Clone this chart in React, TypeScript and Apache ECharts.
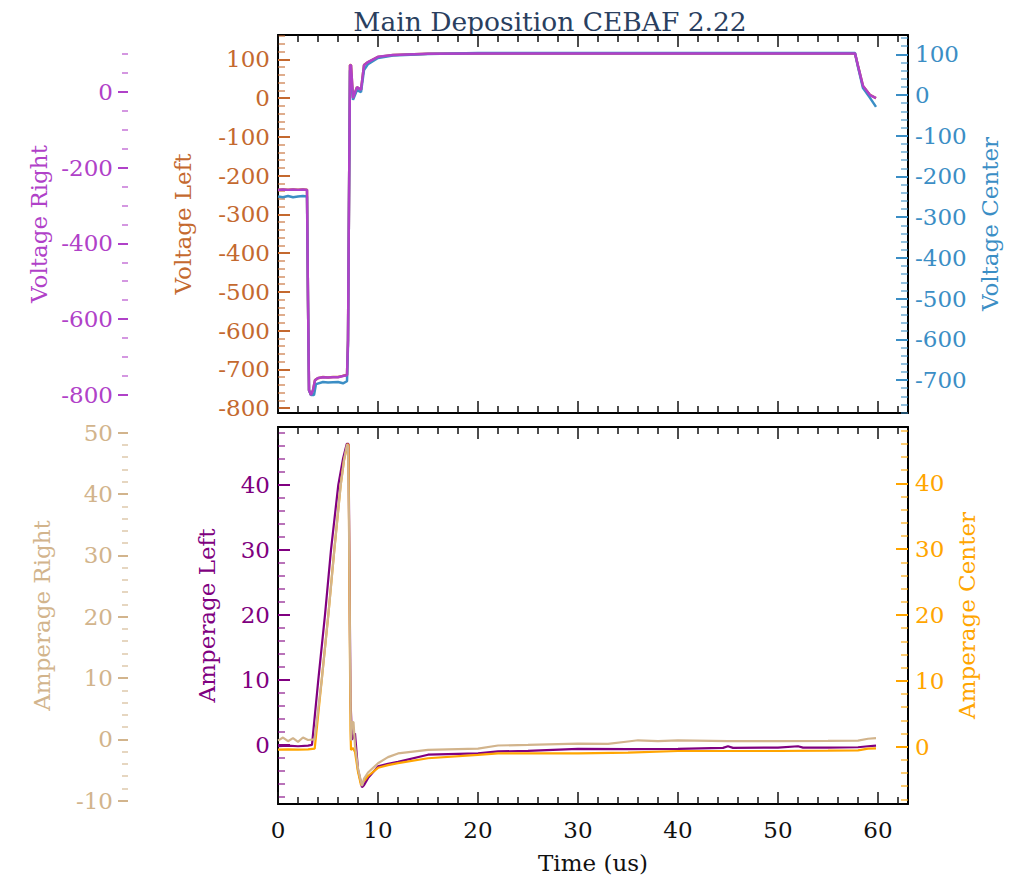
import React, { useEffect, useRef } from "react";
import * as echarts from "echarts";

// ---------- data (time in us, values per axis) ----------
const voltageLeft: [number, number][] = [
  [0, -237], [0.5, -236], [1, -237], [1.5, -236], [2, -237], [2.5, -236], [2.9, -237],
  [3.0, -521], [3.1, -754], [3.3, -766], [3.5, -754], [3.7, -728], [4.0, -723], [4.5, -720],
  [5, -721], [5.5, -720], [6, -720], [6.5, -717], [6.9, -715], [7.0, -625], [7.1, -263],
  [7.2, 85], [7.3, 85], [7.5, 0], [7.9, 28], [8.3, 21], [8.6, 85], [9.0, 93], [10, 106],
  [11.5, 111], [15, 114], [20, 115], [25, 115], [30, 115], [35, 115], [40, 115], [45, 115],
  [50, 115], [55, 115], [57.7, 115], [58.0, 83], [58.5, 31], [59.2, 8], [59.8, 0],
];
const voltageCenter: [number, number][] = [
  [0, -249], [0.5, -251], [1, -248], [1.5, -251], [2, -249], [2.5, -248], [2.9, -249],
  [3.0, -504], [3.1, -725], [3.3, -737], [3.6, -737], [3.8, -710], [4.5, -705], [5, -706],
  [6, -705], [6.5, -708], [6.9, -703], [7.0, -614], [7.1, -258], [7.2, 61], [7.3, 49],
  [7.5, -12], [7.9, 12], [8.3, 7], [8.6, 61], [9.0, 76], [10, 91], [11.5, 97], [15, 101],
  [20, 103], [25, 103], [30, 103], [35, 103], [40, 103], [45, 103], [50, 103], [55, 103],
  [57.7, 103], [58.0, 69], [58.5, 17], [59.2, -7], [59.8, -29],
];
const voltageRight: [number, number][] = [
  [0, -259], [0.5, -258], [1, -259], [1.5, -258], [2, -259], [2.5, -258], [2.9, -259],
  [3.0, -550], [3.1, -787], [3.3, -800], [3.5, -787], [3.7, -761], [4.0, -755], [4.5, -753],
  [5, -754], [5.5, -753], [6, -753], [6.5, -750], [6.9, -748], [7.0, -655], [7.1, -286],
  [7.2, 70], [7.3, 70], [7.5, -17], [7.9, 12], [8.3, 5], [8.6, 70], [9.0, 78], [10, 92],
  [11.5, 97], [15, 100], [20, 101], [25, 101], [30, 101], [35, 101], [40, 101], [45, 101],
  [50, 101], [55, 101], [57.7, 101], [58.0, 68], [58.5, 15], [59.2, -9], [59.8, -17],
];

const amperageLeft: [number, number][] = [
  [0, -0.2], [1, -0.1], [2, -0.2], [3, -0.1], [3.4, 0], [4.03, 10], [4.7, 20], [5.3, 30],
  [6.03, 40], [6.5, 44], [6.87, 46.3], [7.05, 46.3], [7.25, 6.9], [7.4, 0.8], [7.7, 1.8],
  [8.0, -3.8], [8.4, -6.5], [8.6, -6.2], [9, -5.1], [10, -3.3], [11, -2.9], [12, -2.6],
  [15, -1.5], [20, -1.3], [22, -1.0], [25, -0.9], [30, -0.6], [35, -0.65], [40, -0.6],
  [44.5, -0.45], [45, -0.2], [45.5, -0.45], [50, -0.4], [52, -0.2], [52.5, -0.4], [55, -0.4],
  [58, -0.35], [59, -0.2], [59.8, -0.1],
];
const amperageCenter: [number, number][] = [
  [0, -0.45], [1, -0.4], [2, -0.45], [3, -0.4], [3.67, -0.3], [4.37, 10.1], [5.03, 20],
  [5.63, 29.9], [6.27, 39.75], [6.6, 43.5], [6.97, 46.0], [7.05, 45.7], [7.15, 22.3],
  [7.25, 2.5], [7.3, -0.5], [7.5, -0.2], [7.7, -0.8], [8.0, -3.8], [8.3, -5.8], [8.6, -5.2],
  [9, -4.45], [10, -3.2], [11, -2.8], [12, -2.5], [15, -1.75], [20, -1.25], [22, -1.0],
  [30, -1.0], [35, -0.9], [40, -0.65], [50, -0.65], [55, -0.6], [58, -0.55], [59, -0.3],
  [59.8, -0.25],
];
const amperageRight: [number, number][] = [
  [0, -0.2], [0.5, 0.3], [1, -0.3], [1.5, 0.2], [2, -0.4], [2.5, 0.3], [3, -0.1], [3.65, 0],
  [4.37, 9.6], [5.03, 20.2], [5.63, 30.8], [6.27, 41.4], [6.6, 45.5], [6.9, 48.1], [7.0, 47.8],
  [7.1, 35.7], [7.2, 14.5], [7.3, -0.2], [7.4, 2.8], [7.55, 2.8], [7.7, -1.0], [8.0, -4.7],
  [8.4, -7.6], [8.6, -6.4], [9, -5.4], [10, -3.9], [11, -2.9], [12, -2.3], [15, -1.7],
  [20, -1.5], [22, -1.0], [25, -0.9], [30, -0.7], [33, -0.75], [35, -0.35], [36, -0.15],
  [38, -0.3], [40, -0.15], [45, -0.3], [50, -0.3], [55, -0.25], [58, -0.2], [59, 0.1],
  [59.8, 0.2],
];

// ---------- tick labels ----------
const timeTicks = [0, 10, 20, 30, 40, 50, 60];
const voltageLeftTicks = [-800, -700, -600, -500, -400, -300, -200, -100, 0, 100];
const voltageRightTicks = [-800, -600, -400, -200, 0];
const voltageCenterTicks = [-700, -600, -500, -400, -300, -200, -100, 0, 100];
const amperageLeftTicks = [0, 10, 20, 30, 40];
const amperageRightTicks = [-10, 0, 10, 20, 30, 40, 50];
const amperageCenterTicks = [0, 10, 20, 30, 40];

const FONT = "'DejaVu Serif', serif";
const FS = 23;
const C = {
  vl: "#c4692f",
  vr: "#b041c8",
  vc: "#3b8ec5",
  al: "#800080",
  ar: "#d2b48c",
  ac: "#ffa500",
  title: "#2a3f5f",
};

function fade(hex: string, a: number) {
  const n = parseInt(hex.slice(1), 16);
  return `rgba(${(n >> 16) & 255},${(n >> 8) & 255},${n & 255},${a})`;
}

function yAxis(o: any) {
  return {
    type: "value",
    gridIndex: o.grid,
    position: o.pos,
    offset: o.offset,
    min: o.min,
    max: o.max,
    minInterval: o.major,
    maxInterval: o.major,
    splitLine: { show: false },
    axisLine: {
      show: true,
      onZero: false,
      lineStyle: o.offset ? { color: "rgba(0,0,0,0)", width: 0 } : { color: "#000", width: 2 },
    },
    axisTick: {
      show: true,
      inside: !o.offset,
      length: o.offset ? 10 : 12,
      customValues: o.ticks,
      lineStyle: { color: o.color, width: 2 },
    },
    minorTick: {
      show: true,
      splitNumber: o.split,
      length: o.offset ? 6 : 7,
      lineStyle: { color: fade(o.color, 0.55), width: 2 },
    },
    axisLabel: {
      show: true,
      customValues: o.ticks,
      color: o.color,
      fontSize: FS,
      fontFamily: FONT,
      margin: o.labelMargin,
      formatter: (v: number) => (o.ticks.indexOf(v) >= 0 ? String(v) : ""),
    },
    name: o.name,
    nameLocation: "middle",
    nameGap: o.nameGap,
    nameRotate: 90,
    nameTextStyle: { color: o.color, fontSize: FS, fontFamily: FONT },
  };
}

function xAxis(grid: number, pos: string, labels: boolean) {
  return {
    type: "value",
    gridIndex: grid,
    position: pos,
    min: 0,
    max: 63,
    minInterval: 10,
    maxInterval: 10,
    splitLine: { show: false },
    axisLine: { show: true, onZero: false, lineStyle: { color: "#000", width: 2 } },
    axisTick: {
      show: true,
      inside: true,
      length: 12,
      customValues: timeTicks,
      lineStyle: { color: "#111", width: 1.5 },
    },
    minorTick: { show: true, splitNumber: 5, length: 7, lineStyle: { color: "#111", width: 1.5 } },
    axisLabel: {
      show: labels,
      customValues: timeTicks,
      color: "#111",
      fontSize: FS,
      fontFamily: FONT,
      margin: 14,
      formatter: (v: number) => (timeTicks.indexOf(v) >= 0 ? String(v) : ""),
    },
    name: labels ? "Time (us)" : "",
    nameLocation: "middle",
    nameGap: 47,
    nameTextStyle: { color: "#111", fontSize: FS, fontFamily: FONT },
  };
}

function line(name: string, data: [number, number][], xi: number, yi: number, color: string, w: number) {
  return {
    type: "line",
    name,
    data,
    xAxisIndex: xi,
    yAxisIndex: yi,
    showSymbol: false,
    symbol: "none",
    lineStyle: { color, width: w },
    itemStyle: { color },
  };
}

export default function App() {
  const ref = useRef<HTMLDivElement>(null);
  useEffect(() => {
    document.body.style.margin = "0";
    const chart = echarts.init(ref.current!, null, { renderer: "svg" });
    chart.setOption({
      animation: false,
      backgroundColor: "#fff",
      textStyle: { fontFamily: FONT },
      graphic: [
        {
          type: "text",
          x: 550,
          y: 21,
          style: {
            text: "Main Deposition CEBAF 2.22",
            fill: C.title,
            fontSize: 26.5,
            fontFamily: FONT,
            align: "center",
            verticalAlign: "middle",
          },
        },
      ],
      grid: [
        { left: 278, top: 35, width: 630, height: 378 },
        { left: 278, top: 427, width: 630, height: 377 },
      ],
      xAxis: [xAxis(0, "bottom", false), xAxis(0, "top", false), xAxis(1, "bottom", true), xAxis(1, "top", false)],
      yAxis: [
        yAxis({ grid: 0, pos: "left", offset: 0, min: -812.9, max: 162.7, major: 100, split: 5, color: C.vl, name: "Voltage Left", ticks: voltageLeftTicks, nameGap: 84, labelMargin: 8 }),
        yAxis({ grid: 0, pos: "left", offset: 150, min: -847.5, max: 149.5, major: 200, split: 4, color: C.vr, name: "Voltage Right", ticks: voltageRightTicks, nameGap: 75, labelMargin: 15 }),
        yAxis({ grid: 0, pos: "right", offset: 0, min: -781, max: 147.4, major: 100, split: 5, color: C.vc, name: "Voltage Center", ticks: voltageCenterTicks, nameGap: 70, labelMargin: 7 }),
        yAxis({ grid: 1, pos: "left", offset: 0, min: -9.08, max: 48.9, major: 10, split: 5, color: C.al, name: "Amperage Left", ticks: amperageLeftTicks, nameGap: 60, labelMargin: 8 }),
        yAxis({ grid: 1, pos: "left", offset: 150, min: -10.54, max: 50.93, major: 10, split: 5, color: C.ar, name: "Amperage Right", ticks: amperageRightTicks, nameGap: 75, labelMargin: 15 }),
        yAxis({ grid: 1, pos: "right", offset: 0, min: -8.7, max: 48.55, major: 10, split: 5, color: C.ac, name: "Amperage Center", ticks: amperageCenterTicks, nameGap: 46, labelMargin: 7 }),
      ],
      series: [
        line("Voltage Left", voltageLeft, 0, 0, C.vl, 2.5),
        line("Voltage Center", voltageCenter, 0, 2, C.vc, 2.5),
        line("Voltage Right", voltageRight, 0, 1, C.vr, 2.5),
        line("Amperage Left", amperageLeft, 2, 3, C.al, 2.2),
        line("Amperage Center", amperageCenter, 2, 5, C.ac, 2.2),
        line("Amperage Right", amperageRight, 2, 4, C.ar, 2.2),
      ],
    });
    return () => chart.dispose();
  }, []);
  return <div ref={ref} style={{ position: "fixed", left: 0, top: 0, width: 1028, height: 876 }} />;
}
